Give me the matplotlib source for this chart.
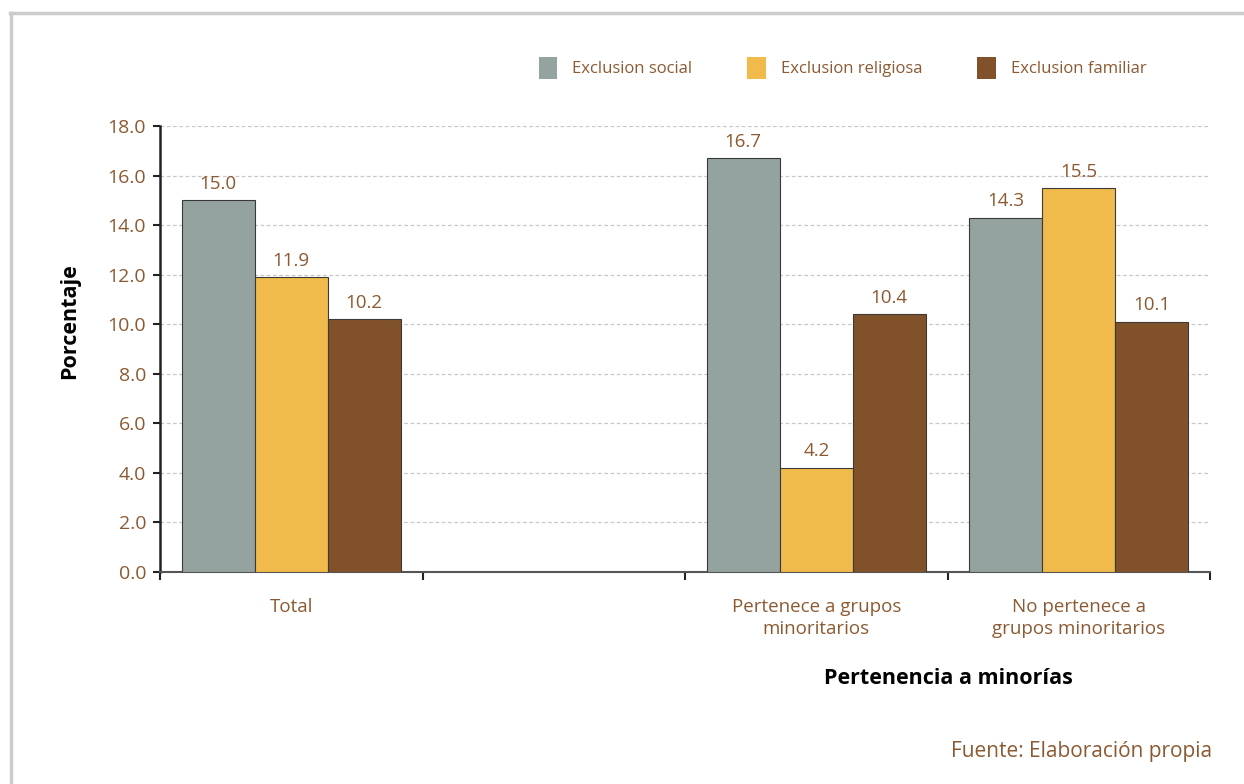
import numpy as np
import matplotlib
matplotlib.use("Agg")
import matplotlib.pyplot as plt
from matplotlib.lines import Line2D

plt.rcParams['font.family'] = ['Open Sans', 'DejaVu Sans']

# datos
categorias = ["Total", "", "Pertenece a grupos\nminoritarios", "No pertenece a\ngrupos minoritarios"]
series = ["Exclusion social", "Exclusion religiosa", "Exclusion familiar"]
social = [15.0, np.nan, 16.7, 14.3]
religiosa = [11.9, np.nan, 4.2, 15.5]
familiar = [10.2, np.nan, 10.4, 10.1]

colores = ["#94a3a0", "#f0bb4a", "#81522a"]
marron = "#8c5a32"

fig = plt.figure(figsize=(12.44, 7.84), dpi=100)
ax = fig.add_axes([160 / 1244, 1 - 572 / 784, 1050 / 1244, 446 / 784])

x = np.arange(len(categorias))
w = 0.278
handles = []
for i, (vals, nombre) in enumerate(zip([social, religiosa, familiar], series)):
    pos = x + (i - 1) * w
    b = ax.bar(pos, vals, width=w, color=colores[i], edgecolor="#3a3a3a",
               linewidth=0.8, label=nombre, zorder=3)
    handles.append(b)
    for xp, v in zip(pos, vals):
        if not np.isnan(v):
            ax.text(xp, v + 0.3, f"{v:.1f}", ha="center", va="bottom",
                    fontsize=13.5, color=marron)

ax.set_xlim(-0.5, 3.5)
ax.set_ylim(0, 18)
ax.set_yticks(np.arange(0, 18.1, 2))
ax.set_yticklabels([f"{t:.1f}" for t in np.arange(0, 18.1, 2)])
ax.yaxis.grid(True, linestyle=(0, (3, 2)), color="#c8c8c8", linewidth=0.9, zorder=0)

ax.set_xticks(x)
ax.set_xticklabels(categorias, linespacing=1.25)
ax.set_xticks(np.arange(-0.5, 3.6, 1), minor=True)
ax.tick_params(axis="x", which="major", length=0, pad=19, labelsize=13.5, labelcolor=marron)
ax.tick_params(axis="x", which="minor", length=6, width=1.5, color="#222222", direction="out")
ax.tick_params(axis="y", length=5, width=1.5, color="#222222", labelsize=14,
               labelcolor=marron, pad=5)

for s in ["top", "right"]:
    ax.spines[s].set_visible(False)
ax.spines["left"].set_color("#222222")
ax.spines["left"].set_linewidth(1.8)
ax.spines["bottom"].set_color("#555555")
ax.spines["bottom"].set_linewidth(1.5)

fig.text(70 / 1244, 1 - 321 / 784, "Porcentaje", rotation=90, ha="center", va="center",
         fontsize=15.5, fontweight="bold", color="black")
fig.text(948 / 1244, 1 - 679 / 784, "Pertenencia a minorías", ha="center", va="center",
         fontsize=15.5, fontweight="bold", color="black")
fig.text(1212 / 1244, 1 - 751 / 784, "Fuente: Elaboración propia", ha="right", va="center",
         fontsize=15, color=marron)

leg = fig.legend(handles=handles, labels=series, ncol=3, frameon=False,
                 loc="center left", bbox_to_anchor=(524 / 1244, 1 - 68 / 784),
                 handlelength=1.1, handleheight=1.7, handletextpad=0.9,
                 columnspacing=3.3, fontsize=12)
for t in leg.get_texts():
    t.set_color(marron)
for h in leg.legend_handles:
    h.set_linewidth(0)

# marco gris del recuadro
fig.add_artist(Line2D([10 / 1244, 1], [1 - 13 / 784, 1 - 13 / 784],
                      transform=fig.transFigure, color="#cccccc", linewidth=2.5))
fig.add_artist(Line2D([11 / 1244, 11 / 1244], [0, 1 - 13 / 784],
                      transform=fig.transFigure, color="#cccccc", linewidth=2.5))

fig.savefig("out.png", dpi=100)
